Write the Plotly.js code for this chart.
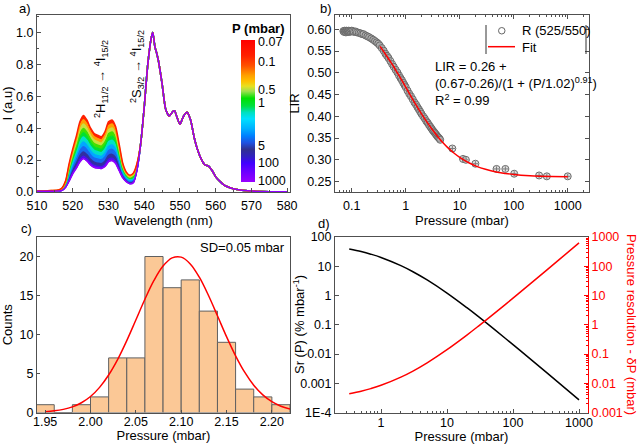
<!DOCTYPE html>
<html><head><meta charset="utf-8">
<script src="https://cdn.plot.ly/plotly-3.0.1.min.js"></script>
<style>html,body{margin:0;padding:0;background:#fff}#chart{width:640px;height:444px}</style>
</head><body><div id="chart"></div>
<script>
// ---------- Panel a: emission spectra ----------
const headWl = [510,512,514,516,517,518,519,520,521,522,523,524,525,526,527,528,529,530,531,532,533,534,535,536,537,538];
const tailWl = [539,540,541,542,542.4,543,543.5,544,545,546,547,548,548.5,549,550,551,552,553,554,555,556,557,558,559,560,561,562,563,564,566,568,570,575,580];
const tailI  = [0.30,0.53,0.80,0.97,1.0,0.91,0.87,0.82,0.68,0.52,0.476,0.505,0.51,0.48,0.425,0.475,0.50,0.45,0.34,0.26,0.205,0.17,0.163,0.135,0.095,0.07,0.05,0.036,0.027,0.016,0.01,0.006,0.002,0.001];
const I_1000 = [0.004,0.004,0.005,0.006,0.01,0.03,0.07,0.115,0.15,0.19,0.21,0.195,0.17,0.155,0.15,0.148,0.16,0.19,0.198,0.18,0.135,0.09,0.065,0.052,0.06,0.14];
const I_50   = [0.004,0.004,0.005,0.006,0.011,0.032,0.076,0.123,0.16,0.203,0.224,0.208,0.182,0.166,0.160,0.158,0.171,0.203,0.211,0.192,0.143,0.095,0.068,0.055,0.063,0.142];
const I_10   = [0.004,0.005,0.006,0.007,0.012,0.036,0.087,0.138,0.18,0.228,0.251,0.233,0.205,0.187,0.181,0.178,0.193,0.228,0.236,0.215,0.160,0.104,0.074,0.060,0.069,0.146];
const I_4    = [0.005,0.005,0.006,0.008,0.014,0.041,0.100,0.157,0.204,0.258,0.283,0.264,0.232,0.212,0.206,0.202,0.219,0.258,0.267,0.242,0.180,0.114,0.081,0.066,0.076,0.151];
const I_2_4  = [0.005,0.006,0.007,0.008,0.016,0.045,0.112,0.174,0.226,0.285,0.313,0.292,0.257,0.236,0.228,0.223,0.243,0.285,0.295,0.267,0.198,0.124,0.088,0.072,0.083,0.155];
const I_1_5  = [0.005,0.006,0.007,0.009,0.018,0.05,0.125,0.193,0.25,0.315,0.345,0.323,0.285,0.261,0.253,0.247,0.269,0.315,0.325,0.295,0.218,0.135,0.095,0.079,0.09,0.16];
const I_1    = [0.005,0.006,0.008,0.010,0.019,0.054,0.136,0.208,0.27,0.34,0.372,0.348,0.308,0.282,0.274,0.267,0.290,0.34,0.350,0.318,0.234,0.144,0.101,0.084,0.096,0.164];
const I_0_7  = [0.006,0.006,0.008,0.010,0.021,0.058,0.147,0.224,0.29,0.365,0.399,0.374,0.331,0.303,0.294,0.287,0.312,0.365,0.376,0.341,0.251,0.153,0.107,0.089,0.102,0.168];
const I_0_5  = [0.006,0.007,0.008,0.011,0.022,0.062,0.158,0.239,0.31,0.39,0.426,0.399,0.354,0.325,0.315,0.306,0.334,0.39,0.401,0.364,0.267,0.162,0.113,0.094,0.108,0.172];
const I_0_3  = [0.006,0.007,0.009,0.011,0.024,0.066,0.169,0.255,0.33,0.415,0.453,0.425,0.377,0.346,0.335,0.326,0.355,0.415,0.427,0.387,0.284,0.171,0.119,0.100,0.114,0.176];
const I_0_07 = [0.006,0.007,0.009,0.012,0.025,0.07,0.18,0.27,0.35,0.44,0.48,0.45,0.40,0.367,0.356,0.346,0.377,0.44,0.452,0.41,0.30,0.18,0.125,0.105,0.12,0.18];
const spectra = [I_1000,I_50,I_10,I_4,I_2_4,I_1_5,I_1,I_0_7,I_0_5,I_0_3,I_0_07];
const specColors = ['#9000ff','#4a10f0','#3030a0','#1868f0','#00a8ff','#00e0c8','#00e030','#40e000','#c8e040','#ffa000','#ff2000'];
const cbTickVals = [0.988,0.847,0.648,0.558,0.254,0.134,0.007];
const cbTickText = ['0.07','0.1','0.5','1','5','100','1000'];

// ---------- Panel b: LIR vs pressure ----------
const P_data = [0.070,0.072,0.074,0.076,0.078,0.080,0.082,0.084,0.086,0.088,0.090,0.093,0.096,0.100,0.105,0.11,0.118,0.125,0.135,0.145,0.155,0.165,0.18,0.195,0.21,0.23,0.25,0.27,0.29,0.31,0.33,0.36,0.39,0.42,0.45,0.48,0.52,0.56,0.6,0.65,0.7,0.75,0.8,0.85,0.9,0.95,1.0,1.08,1.16,1.25,1.35,1.45,1.55,1.65,1.75,1.85,1.95,2.1,2.25,2.4,2.55,2.7,2.85,3.0,3.15,3.3,3.45,3.6,3.75,3.9,4.05,4.2,4.35,7.3,11.5,13,19.5,48,70,102,295,410,1000];
const LIR_data = [0.596,0.594,0.597,0.595,0.593,0.597,0.595,0.594,0.596,0.597,0.594,0.596,0.595,0.597,0.596,0.594,0.595,0.593,0.592,0.591,0.589,0.589,0.586,0.584,0.582,0.579,0.576,0.573,0.570,0.567,0.563,0.557,0.551,0.544,0.539,0.534,0.527,0.520,0.514,0.507,0.501,0.494,0.488,0.483,0.477,0.472,0.467,0.459,0.452,0.446,0.439,0.432,0.427,0.421,0.416,0.411,0.406,0.400,0.395,0.389,0.385,0.380,0.376,0.372,0.368,0.365,0.362,0.359,0.356,0.353,0.351,0.349,0.346,0.326,0.302,0.300,0.291,0.279,0.279,0.268,0.264,0.262,0.262];
const P_fit = [0.335,0.4,0.5,0.6,0.7,0.8,1,1.2,1.5,2,2.5,3,4,5,6,8,10,15,20,30,50,70,100,200,300,500,1000];
const LIR_fit = [0.561,0.547,0.529,0.514,0.500,0.488,0.467,0.450,0.429,0.404,0.386,0.372,0.352,0.338,0.328,0.3146,0.3057,0.2927,0.2856,0.2781,0.2716,0.2686,0.2662,0.2633,0.2623,0.2615,0.2608];

// ---------- Panel c: histogram ----------
const binCenters = [1.95,1.97,1.99,2.01,2.03,2.05,2.07,2.09,2.11,2.13,2.15,2.17,2.19,2.21];
const counts = [1,0,1,2,7,7,20,16,17,13,9,3,2,1];
const gaussX = [1.95,1.96,1.97,1.98,1.99,2.00,2.01,2.02,2.03,2.04,2.05,2.06,2.07,2.08,2.09,2.10,2.11,2.12,2.13,2.14,2.15,2.16,2.17,2.18,2.19,2.20,2.21,2.22];
const gaussY = [0.10,0.21,0.40,0.72,1.25,2.05,3.22,4.81,6.82,9.22,11.86,14.52,16.93,18.77,19.82,19.92,19.05,17.35,15.03,12.40,9.73,7.27,5.17,3.50,2.26,1.39,0.81,0.45];

// ---------- Panel d: sensitivity & resolution ----------
const P_d = [0.33,0.5,0.7,1,2,3,5,10,20,30,50,100,200,500,1000];
const Sr = [39,31.8,25.9,20.0,10.5,6.63,3.41,1.21,0.383,0.189,0.0752,0.0209,0.00572,0.00101,0.00027];
const dP = [0.00436,0.00535,0.00656,0.0085,0.0162,0.0256,0.0499,0.141,0.444,0.902,2.26,8.12,29.7,168,630];

// ---------- build ----------
const FONT = 'Liberation Sans, Arial, sans-serif';
const AX = '#505050';
const W = 640, H = 444;
const px = v => v / W, py = v => 1 - v / H;

function logMinor(lo, hi) { const out = []; for (let e = lo; e <= hi; e++) for (let k = 2; k <= 9; k++) out.push(k * Math.pow(10, e)); return out; }

const traces = [];
const fullWl = headWl.concat(tailWl);
spectra.forEach((s, i) => {
  traces.push({type:'scatter', mode:'lines', x: fullWl, y: s.concat(tailI), xaxis:'x', yaxis:'y',
    line:{color: specColors[i], width:1.5, shape:'spline', smoothing:0.6},
    fill: i === 0 ? 'none' : 'tonexty', fillcolor: specColors[i], hoverinfo:'skip', showlegend:false});
});
traces.push({type:'scatter', mode:'lines', x: fullWl, y: I_1000.concat(tailI), xaxis:'x', yaxis:'y',
  line:{color:'#9000ff', width:1.5, shape:'spline', smoothing:0.6}, hoverinfo:'skip', showlegend:false});
// colorbar carrier (points outside the visible range)
traces.push({type:'scatter', mode:'markers', x:[500,500], y:[0.5,0.5], xaxis:'x', yaxis:'y', cliponaxis:true,
  marker:{size:1, color:[0,1], cmin:0, cmax:1, showscale:true,
    colorscale:[[0,'#9800ff'],[0.09,'#6000ff'],[0.134,'#4000ff'],[0.18,'#3020c0'],[0.23,'#303090'],[0.275,'#2050e0'],[0.325,'#0080ff'],[0.375,'#00b0ff'],[0.445,'#00e0ff'],[0.49,'#00e0c0'],[0.535,'#00e040'],[0.59,'#00e000'],[0.64,'#a0e050'],[0.675,'#e8e020'],[0.71,'#ffc000'],[0.75,'#ffa000'],[0.82,'#ff5000'],[0.89,'#ff2000'],[1,'#ff0000']],
    colorbar:{x:px(241), xanchor:'left', xref:'paper', xpad:0, ypad:0, y:py(182), yanchor:'bottom', yref:'paper',
      len:142/H, lenmode:'fraction', thickness:14, thicknessmode:'pixels', outlinewidth:0,
      tickmode:'array', tickvals:cbTickVals, ticktext:cbTickText, ticks:'', ticklabelpad:2,
      tickfont:{family:FONT, size:12.5, color:'#000'}}},
  hoverinfo:'skip', showlegend:false});

// panel b
traces.push({type:'scatter', mode:'markers', x:P_data, y:LIR_data, xaxis:'x2', yaxis:'y2',
  marker:{symbol:'circle', size:7, color:'rgba(190,190,190,0.45)', line:{color:'#6a6a6a', width:1}},
  error_y:{type:'constant', value:0.006, color:'#444', thickness:1, width:0},
  error_x:{type:'percent', value:12, color:'#444', thickness:1, width:0},
  hoverinfo:'skip', showlegend:false});
traces.push({type:'scatter', mode:'lines', x:P_fit, y:LIR_fit, xaxis:'x2', yaxis:'y2',
  line:{color:'#ff0000', width:1.5, shape:'spline'}, hoverinfo:'skip', showlegend:false});

// panel c
traces.push({type:'bar', x:binCenters, y:counts, width:0.02, xaxis:'x3', yaxis:'y3',
  marker:{color:'#fbc896', line:{color:'#606060', width:1}}, hoverinfo:'skip', showlegend:false});
traces.push({type:'scatter', mode:'lines', x:gaussX, y:gaussY, xaxis:'x3', yaxis:'y3',
  line:{color:'#ff0000', width:1.5, shape:'spline'}, hoverinfo:'skip', showlegend:false});

// panel d
traces.push({type:'scatter', mode:'lines', x:P_d, y:Sr, xaxis:'x4', yaxis:'y4',
  line:{color:'#000', width:1.5, shape:'spline'}, hoverinfo:'skip', showlegend:false});
traces.push({type:'scatter', mode:'lines', x:P_d, y:dP, xaxis:'x4', yaxis:'y5',
  line:{color:'#ff0000', width:1.5, shape:'spline'}, hoverinfo:'skip', showlegend:false});

const tf = {family:FONT, size:12.5, color:'#000'};
const titf = {family:FONT, size:13, color:'#000'};
function base(extra) {
  return Object.assign({showline:true, linecolor:AX, linewidth:1, mirror:true, ticks:'inside', ticklen:4,
    tickcolor:AX, tickwidth:1, showgrid:false, zeroline:false, tickfont:tf, automargin:false}, extra);
}
const minorLin = (d) => ({ticks:'inside', ticklen:2, tickcolor:AX, dtick:d, showgrid:false});
function ann(text, x, y, extra) {
  return Object.assign({text:text, x:px(x), y:py(y), xref:'paper', yref:'paper', xanchor:'center', yanchor:'middle',
    showarrow:false, font:titf}, extra || {});
}

const layout = {
  width:W, height:H, margin:{l:0,r:0,t:0,b:0}, paper_bgcolor:'#fff', plot_bgcolor:'#fff',
  font:{family:FONT, size:12.5, color:'#000'}, showlegend:false,
  xaxis: base({domain:[px(37),px(290)], anchor:'y', range:[510,580.8], tickmode:'array', tickvals:[510,520,530,540,550,560,570,580],
    minor:minorLin(5), ticklabelstandoff:2, title:{text:'Wavelength (nm)', font:titf, standoff:2}}),
  yaxis: base({domain:[py(192),py(15)], anchor:'x', range:[0,1.11], tickmode:'linear', tick0:0, dtick:0.2, tickformat:'.1f',
    minor:minorLin(0.1), title:{text:'I (a.u)', font:titf, standoff:4}}),
  xaxis2: base({domain:[px(335),px(589)], anchor:'y2', type:'log', range:[-1.31,3.394], mirror:'ticks',
    tickmode:'array', tickvals:[0.1,1,10,100,1000], ticktext:['0.1','1','10','100','1000'], ticklabelstandoff:2,
    minor:{ticks:'inside', ticklen:2, tickcolor:AX, tickmode:'array', tickvals:logMinor(-2,3), showgrid:false},
    title:{text:'Pressure (mbar)', font:titf, standoff:3}}),
  yaxis2: base({domain:[py(192),py(15)], anchor:'x2', range:[0.226,0.633], mirror:'ticks',
    tickmode:'array', tickvals:[0.25,0.30,0.35,0.40,0.45,0.50,0.55,0.60], tickformat:'.2f',
    title:{text:'LIR', font:titf, standoff:4}}),
  xaxis3: base({domain:[px(37),px(290)], anchor:'y3', range:[1.941,2.22], tickmode:'array',
    tickvals:[1.95,2.00,2.05,2.10,2.15,2.20], tickformat:'.2f', ticklen:3, ticklabelstandoff:-3,
    title:{text:'Pressure (mbar)', font:titf, standoff:0}}),
  yaxis3: base({domain:[py(412.5),py(237)], anchor:'x3', range:[0,22.5], tickmode:'linear', tick0:0, dtick:5, ticklen:3,
    title:{text:'Counts', font:titf, standoff:6}}),
  xaxis4: base({domain:[px(335),px(588)], anchor:'y4', type:'log', range:[-0.697,3.136],
    tickmode:'array', tickvals:[1,10,100,1000], ticktext:['1','10','100','1000'], ticklabelstandoff:-2,
    minor:{ticks:'inside', ticklen:2, tickcolor:AX, tickmode:'array', tickvals:logMinor(-1,3), showgrid:false},
    title:{text:'Pressure (mbar)', font:titf, standoff:1}}),
  yaxis4: base({domain:[py(412.5),py(237)], anchor:'x4', type:'log', range:[-4,2], mirror:false,
    tickmode:'array', tickvals:[1e-4,1e-3,0.01,0.1,1,10,100], ticktext:['1E-4','0.001','0.01','0.1','1','10','100']}),
  yaxis5: base({overlaying:'y4', anchor:'x4', side:'right', type:'log', range:[-3,3], mirror:false,
    linecolor:'#ff0000', tickcolor:'#ff0000', tickfont:{family:FONT, size:12.5, color:'#ff0000'},
    tickmode:'array', tickvals:[1e-3,0.01,0.1,1,10,100,1000], ticktext:['0.001','0.01','0.1','1','10','100','1000'],
    minor:{ticks:'inside', ticklen:2, tickcolor:'#ff0000', tickmode:'array', tickvals:logMinor(-3,2), showgrid:false}}),
  shapes: [
    {type:'line', xref:'paper', yref:'paper', x0:px(486), x1:px(486), y0:py(25), y1:py(54), line:{color:'#333', width:1}},
    {type:'line', xref:'paper', yref:'paper', x0:px(586), x1:px(586), y0:py(25), y1:py(54), line:{color:'#333', width:1}},
    {type:'circle', xref:'paper', yref:'paper', x0:px(498.5), x1:px(505), y0:py(34), y1:py(27.5), line:{color:'#666', width:1}},
    {type:'line', xref:'paper', yref:'paper', x0:px(488), x1:px(515), y0:py(46.7), y1:py(46.7), line:{color:'#ff0000', width:1.5}}
  ],
  annotations: [
    ann('a)', 25, 8), ann('b)', 326, 8), ann('c)', 26, 228), ann('d)', 324, 223),
    ann('<sup>2</sup>H<sub>11/2</sub> → <sup>4</sup>I<sub>15/2</sub>', 101, 79, {textangle:-90}),
    ann('<sup>2</sup>S<sub>3/2</sub> → <sup>4</sup>I<sub>15/2</sub>', 137, 67, {textangle:-90}),
    ann('<b>P (mbar)</b>', 287, 28, {xanchor:'right'}),
    ann('R (525/550)', 520, 31, {xanchor:'left'}),
    ann('Fit', 520, 47, {xanchor:'left'}),
    ann('LIR = 0.26 +', 433, 66.7, {xanchor:'left'}),
    ann('(0.67-0.26)/(1 + (P/1.02)<sup>0.91</sup>)', 433, 83, {xanchor:'left'}),
    ann('R<sup>2</sup> = 0.99', 433, 99.5, {xanchor:'left'}),
    ann('SD=0.05 mbar', 287, 248, {xanchor:'right'}),
    ann('Sr (P) (% mbar<sup>-1</sup>)', 299, 325, {textangle:-90}),
    ann('Pressure resolution - δP (mbar)', 632, 324, {textangle:90, font:{family:FONT, size:13, color:'#ff0000'}})
  ]
};

Plotly.newPlot('chart', traces, layout, {staticPlot:true, displayModeBar:false});
</script></body></html>
